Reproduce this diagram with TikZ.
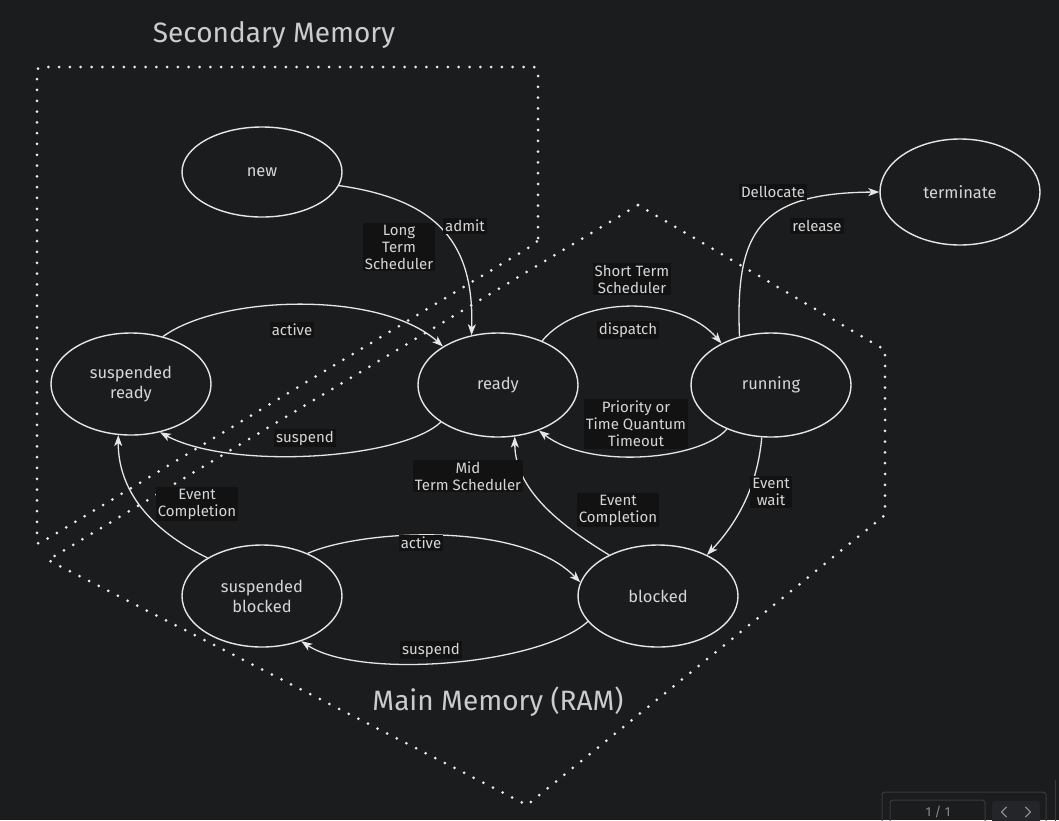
\documentclass[tikz,border=0pt]{standalone}
\usepackage{fontspec}
\setmainfont{Fira Sans}
\usetikzlibrary{shapes.geometric,arrows.meta}
\definecolor{bg}{HTML}{1B1C1E}
\definecolor{fg}{HTML}{E6E6E6}
\definecolor{txt}{HTML}{D6D6D6}
\definecolor{ttl}{HTML}{CCCCCC}
\definecolor{lblbg}{HTML}{121213}
\definecolor{uiline}{HTML}{383A3D}
\definecolor{uifill}{HTML}{242528}
\definecolor{uitxt}{HTML}{8A8A8A}
\tikzset{
  state/.style={ellipse, draw=fg, line width=1.4pt, fill=bg, minimum width=160pt,
    minimum height=102pt, inner sep=0pt, text=txt, align=center,
    font=\fontsize{16.5}{20}\selectfont},
  lbl/.style={fill=lblbg, text=txt, align=center, inner sep=2pt,
    font=\fontsize{15}{17}\selectfont},
  edge/.style={draw=fg, line width=1.3pt,
    -{Stealth[length=11pt,width=8pt,inset=3pt]}},
  memline/.style={draw=white!92!black, line width=3pt, line cap=round,
    line join=round, dash pattern=on 0pt off 10.8pt},
  ttlstyle/.style={text=ttl, font=\fontsize{28}{32}\selectfont, inner sep=0pt},
  chev/.style={draw=uitxt, line width=1.2pt, line cap=round, line join=round}
}
\begin{document}
\begin{tikzpicture}[x=1pt,y=1pt]
\fill[bg] (0,0) rectangle (1059,-820);
\useasboundingbox (0,0) rectangle (1059,-820);
\clip (0,0) rectangle (1059,-820);

% memory regions
\draw[memline, rounded corners=4pt] (538,-242) -- (538,-67) -- (37,-67) -- (37,-545) -- cycle;
\draw[memline] (638,-205) -- (885,-350) -- (885,-515) -- (527,-805) -- (48,-560) -- cycle;

\node[ttlstyle] (sec) at (274,-35) {Secondary Memory};
\node[ttlstyle] (mainm) at (498,-702) {Main Memory (RAM)};

% states
\node[state, minimum height=90pt] (new) at (262,-172) {new};
\node[state, minimum height=106pt] (term) at (960,-192) {terminate};
\node[state] (sready) at (131,-384) {suspended\\ready};
\node[state, minimum height=104pt] (ready) at (498,-385) {ready};
\node[state, minimum height=104pt] (run) at (771,-385) {running};
\node[state] (sblock) at (262,-596) {suspended\\blocked};
\node[state] (block) at (658,-596) {blocked};

% transitions
\draw[edge] (new.-10) .. controls (440,-200) and (474,-245) .. (ready.118);
\draw[edge] (sready.56) .. controls (220,-295) and (380,-290) .. (ready.145);
\draw[edge] (ready.213) .. controls (400,-460) and (230,-470) .. (sready.301);
\draw[edge] (ready.45) .. controls (580,-295) and (680,-295) .. (run.140);
\draw[edge] (run.225) .. controls (700,-460) and (590,-470) .. (ready.312);
\draw[edge] (run.123) .. controls (735,-230) and (760,-193) .. (term.west);
\draw[edge] (run.260) .. controls (757,-490) and (735,-525) .. (block.40);
\draw[edge] (block.140) .. controls (560,-525) and (515,-490) .. (ready.288);
\draw[edge] (sblock.145) .. controls (150,-530) and (118,-490) .. (sready.256);
\draw[edge] (sblock.43) .. controls (360,-530) and (520,-520) .. (block.170);
\draw[edge] (block.200) .. controls (540,-665) and (360,-680) .. (sblock.311);

% labels
\node[lbl] (l1) at (465,-226) {admit};
\node[lbl] (l2) at (399,-247) {Long\\Term\\Scheduler};
\node[lbl] (l3) at (292,-330) {active};
\node[lbl] (l4) at (305,-438) {suspend};
\node[lbl] (l5) at (632,-279) {Short Term\\Scheduler};
\node[lbl] (l6) at (628,-330) {dispatch};
\node[lbl] (l7) at (636,-424) {Priority or\\Time Quantum\\Timeout};
\node[lbl] (l8) at (773,-192) {Dellocate};
\node[lbl] (l9) at (817,-226) {release};
\node[lbl] (l10) at (771,-492) {Event\\wait};
\node[lbl] (l11) at (468,-476) {Mid\\Term Scheduler};
\node[lbl] (l12) at (618,-510) {Event\\Completion};
\node[lbl] (l13) at (197,-504) {Event\\Completion};
\node[lbl] (l14) at (421,-543) {active};
\node[lbl] (l15) at (431,-650) {suspend};

% viewer page indicator
\draw[uiline, line width=1pt, rounded corners=3pt] (882,-792) rectangle (1046,-830);
\draw[uiline, line width=1pt, rounded corners=3pt] (890,-800) rectangle (985,-830);
\fill[uifill, rounded corners=3pt] (992,-801) rectangle (1040,-830);
\draw[uiline, line width=1pt] (1055,-780) -- (1055,-830);
\node[text=uitxt, font=\fontsize{13}{15}\selectfont, inner sep=0pt] (pg) at (938,-812) {1 / 1};
\coordinate (cl) at (1004,-812);
\coordinate (cr) at (1028,-812);
\draw[chev] ([shift={(2.5,5)}]cl) -- ([shift={(-2.5,0)}]cl) -- ([shift={(2.5,-5)}]cl);
\draw[chev] ([shift={(-2.5,5)}]cr) -- ([shift={(2.5,0)}]cr) -- ([shift={(-2.5,-5)}]cr);
\end{tikzpicture}
\end{document}
